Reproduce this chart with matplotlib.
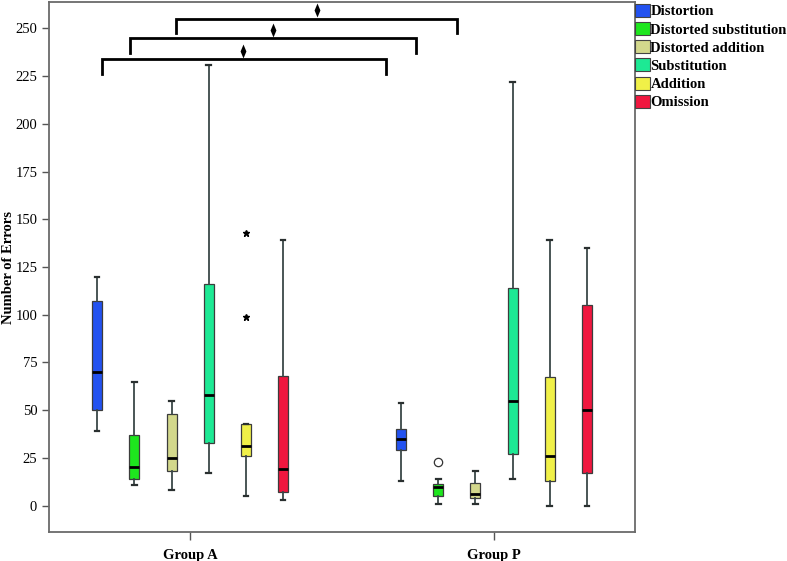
import numpy as np
import matplotlib.pyplot as plt
from matplotlib.patches import Patch

plt.rcParams['font.family'] = ['Liberation Serif', 'DejaVu Serif']

groups = ["Group A", "Group P"]
kinds = ["Distortion", "Distorted substitution", "Distorted addition",
         "Substitution", "Addition", "Omission"]
colors = ["#2352f0", "#1ee61e", "#d3d88c", "#1de994", "#f0f048", "#f0173f"]

# five-number summaries: low whisker, q1, median, q3, high whisker
group_a = [
    [39, 50, 70, 107, 120],
    [11, 14, 20.5, 37, 65],
    [8, 18, 25, 48, 55],
    [17, 33, 58, 116, 231],
    [5, 26, 31, 43, 43],
    [3, 7, 19, 68, 139],
]
group_p = [
    [13, 29, 35, 40, 54],
    [1, 5, 10, 11.5, 14],
    [1, 4, 6, 12, 18],
    [14, 27, 55, 114, 222],
    [0, 13, 26, 67.5, 139],
    [0, 17, 50, 105, 135],
]
# (group, kind, value)
extremes = [(0, 4, 143), (0, 4, 99)]
outliers = [(1, 1, 23)]

# significance brackets
br_left = [-0.289, -0.197, -0.046]
br_right = [0.645, 0.743, 0.878]
br_bar = [234, 245, 255]
br_tip = [226, 237, 247.5]
br_mark_x = [0.174, 0.273, 0.418]
br_mark_y = [238, 249, 259.5]

offsets = [-0.306, -0.184, -0.061, 0.061, 0.184, 0.306]
width = 0.033

fig = plt.figure(figsize=(7.87, 5.61), dpi=100)
ax = fig.add_axes([0.0623, 0.0517, 0.7446, 0.9447])

for gi, data in enumerate([group_a, group_p]):
    for k, vals in enumerate(data):
        stats = [dict(whislo=vals[0], q1=vals[1], med=vals[2], q3=vals[3],
                      whishi=vals[4], fliers=[])]
        ax.bxp(stats, positions=[gi + offsets[k]], widths=width,
               patch_artist=True, showfliers=False, capwidths=0.016,
               boxprops=dict(facecolor=colors[k], edgecolor="#3c3c3c", linewidth=0.9),
               medianprops=dict(color="black", linewidth=2),
               whiskerprops=dict(color="#3a4848", linewidth=1.3),
               capprops=dict(color="#2a3030", linewidth=1.6))

for g, k, v in extremes:
    ax.plot(g + offsets[k], v, marker="*", color="black", markersize=5, linestyle="none")
for g, k, v in outliers:
    ax.plot(g + offsets[k], v, marker="o", mfc="white", mec="#333333",
            markersize=6, mew=0.9, linestyle="none")

diamond = [(0, 1), (0.42, 0), (0, -1), (-0.42, 0), (0, 1)]
for l, r, bar, tip, mx, my in zip(br_left, br_right, br_bar, br_tip, br_mark_x, br_mark_y):
    ax.plot([l, l, r, r], [tip, bar, bar, tip], color="black", linewidth=2,
            solid_joinstyle="miter")
    ax.plot(mx, my, marker=diamond, color="black", markersize=10, mew=0)

ax.set_xlim(-0.464, 1.464)
ax.set_ylim(-13.8, 263.8)
ax.set_xticks([0, 1])
ax.set_xticklabels(groups, fontsize=10.5, fontweight="bold")
ax.set_yticks(np.arange(0, 251, 25))
ax.tick_params(axis="y", labelsize=10.5, length=5, color="#555555", width=1)
ax.tick_params(axis="x", length=6, color="#555555", width=1, pad=6)
for s in ax.spines.values():
    s.set_color("#6a6a6a")
    s.set_linewidth(1.3)
ax.set_ylabel("Number of Errors", fontsize=10.5, fontweight="bold", labelpad=0)

handles = [Patch(facecolor=c, edgecolor="#444444", linewidth=0.8) for c in colors]
fig.legend(handles, kinds, loc="upper left", bbox_to_anchor=(0.807, 0.993),
           frameon=False, prop=dict(size=10.5, weight="bold"),
           handlelength=1.0, handleheight=1.0, handletextpad=0.05,
           labelspacing=0.25, borderpad=0, borderaxespad=0)

fig.savefig("out.png", dpi=100)
